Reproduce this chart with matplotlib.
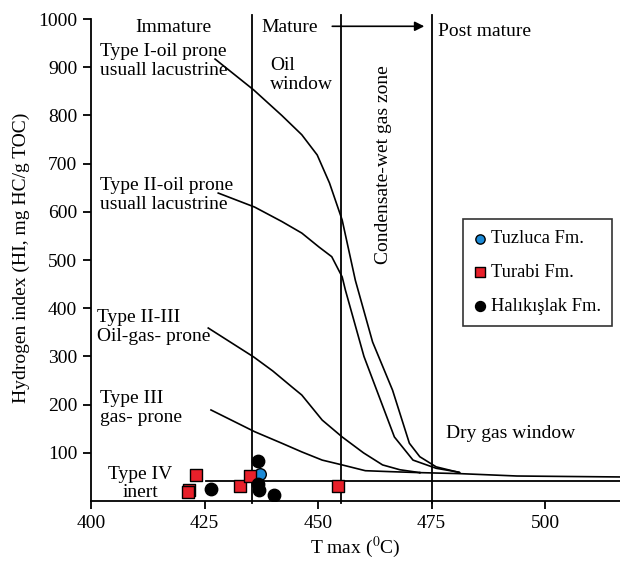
import matplotlib
matplotlib.use("Agg")
import matplotlib.pyplot as plt

plt.rcParams['font.family'] = ['Liberation Serif', 'DejaVu Serif']
plt.rcParams['mathtext.fontset'] = 'stix'

# kerogen type curves (Tmax, HI)
type1_x = [427.3, 435.8, 442.0, 446.4, 449.8, 452.5, 455.3, 458.2, 462.0, 466.4, 470.1, 472.4, 476.0, 481.2]
type1_y = [917, 853, 800, 760, 718, 660, 583, 458, 330, 230, 120, 92, 71, 59]
type2_x = [428.0, 436.0, 442.0, 446.4, 450.2, 453.0, 455.3, 456.0, 460.1, 466.8, 470.9, 476.0, 481.0]
type2_y = [639, 610, 580, 556, 527, 507, 465, 438, 300, 133, 85, 68, 60]
type23_x = [425.8, 435.8, 440.0, 444.2, 446.4, 450.9, 455.3, 460.0, 464.2, 468.0, 472.4]
type23_y = [359, 299, 270, 237, 220, 168, 133, 100, 75, 65, 59]
type3_x = [426.4, 436.0, 442.0, 446.4, 450.9, 455.3, 460.4, 466.0, 472.4]
type3_y = [189, 144, 120, 102, 85, 75, 63, 61, 59]
tail_x = [472.4, 481.0, 493.8, 505.0, 516.8]
tail_y = [59, 57, 52, 51, 50]

# samples
tuz_x = [437.2]
tuz_y = [56]
tur_x = [423.1, 421.6, 421.3, 432.7, 435.0, 454.4]
tur_y = [54, 23, 18, 31, 52, 31]
hal_x = [426.4, 436.7, 436.8, 437.0, 440.3]
hal_y = [25, 84, 35, 24, 12]

zones = [435.5, 455, 475]

fig = plt.figure(figsize=(6.2, 5.63), dpi=100)
ax = fig.add_axes([0.147, 0.110, 0.853, 0.863])

for xs, ys in [(type1_x, type1_y), (type2_x, type2_y), (type23_x, type23_y), (type3_x, type3_y), (tail_x, tail_y)]:
    ax.plot(xs, ys, color='black', lw=1.2)

for z in zones:
    ax.plot([z, z], [-3, 1008], color='black', lw=1.3, clip_on=False)
ax.plot([425.3, 516.5], [42, 42], color='black', lw=1.3)

ax.annotate('', xy=(474, 985), xytext=(452.5, 985),
            arrowprops=dict(arrowstyle='-|>', color='black', lw=1.2, mutation_scale=14))

ax.scatter(tuz_x, tuz_y, s=70, marker='o', color='#1c8ad6', edgecolor='black', lw=1, zorder=5, label='Tuzluca Fm.')
ax.scatter(tur_x, tur_y, s=70, marker='s', color='#e8202a', edgecolor='black', lw=1, zorder=5, label='Turabi Fm.')
ax.scatter(hal_x, hal_y, s=80, marker='o', color='black', zorder=5, label='Halıkışlak Fm.')

fs = 14
ls = 1.1
ax.text(418, 983, 'Immature', ha='center', va='center', fontsize=fs)
ax.text(437.5, 983, 'Mature', ha='left', va='center', fontsize=fs)
ax.text(476.3, 975, 'Post mature', ha='left', va='center', fontsize=fs)
ax.text(439.5, 884, 'Oil\nwindow', ha='left', va='center', fontsize=fs, linespacing=ls)
ax.text(402, 913, 'Type I-oil prone\nusuall lacustrine', ha='left', va='center', fontsize=fs, linespacing=ls)
ax.text(402, 635, 'Type II-oil prone\nusuall lacustrine', ha='left', va='center', fontsize=fs, linespacing=ls)
ax.text(401.2, 361, 'Type II-III\nOil-gas- prone', ha='left', va='center', fontsize=fs, linespacing=ls)
ax.text(402, 193, 'Type III\ngas- prone', ha='left', va='center', fontsize=fs, linespacing=ls)
ax.text(410.8, 37, 'Type IV\ninert', ha='center', va='center', fontsize=fs, linespacing=ls)
ax.text(464.5, 697, 'Condensate-wet gas zone', ha='center', va='center', rotation=90, fontsize=fs)
ax.text(478.2, 141, 'Dry gas window', ha='left', va='center', fontsize=fs)

ax.set_xlim(400, 516.5)
ax.set_ylim(0, 1008)
ax.set_xticks([400, 425, 450, 475, 500])
ax.set_yticks([100, 200, 300, 400, 500, 600, 700, 800, 900, 1000])
ax.tick_params(labelsize=fs, width=1.3, length=6, direction='out', pad=4)
for s in ['top', 'right']:
    ax.spines[s].set_visible(False)
ax.spines['left'].set_bounds(0, 1000)
ax.spines['left'].set_linewidth(1.3)
ax.spines['bottom'].set_linewidth(1.3)
ax.set_xlabel('T max ($^0$C)', fontsize=fs, labelpad=2)
ax.set_ylabel('Hydrogen index (HI, mg HC/g TOC)', fontsize=fs, labelpad=6)

leg = ax.legend(loc='upper left', bbox_to_anchor=(0.703, 0.58), fontsize=13.3, frameon=True,
                fancybox=False, edgecolor='black', handletextpad=0.2, borderpad=0.6,
                labelspacing=0.9, handlelength=0.7, markerscale=0.8, borderaxespad=0)
leg.get_frame().set_linewidth(1.2)

fig.savefig('out.png', dpi=100)
